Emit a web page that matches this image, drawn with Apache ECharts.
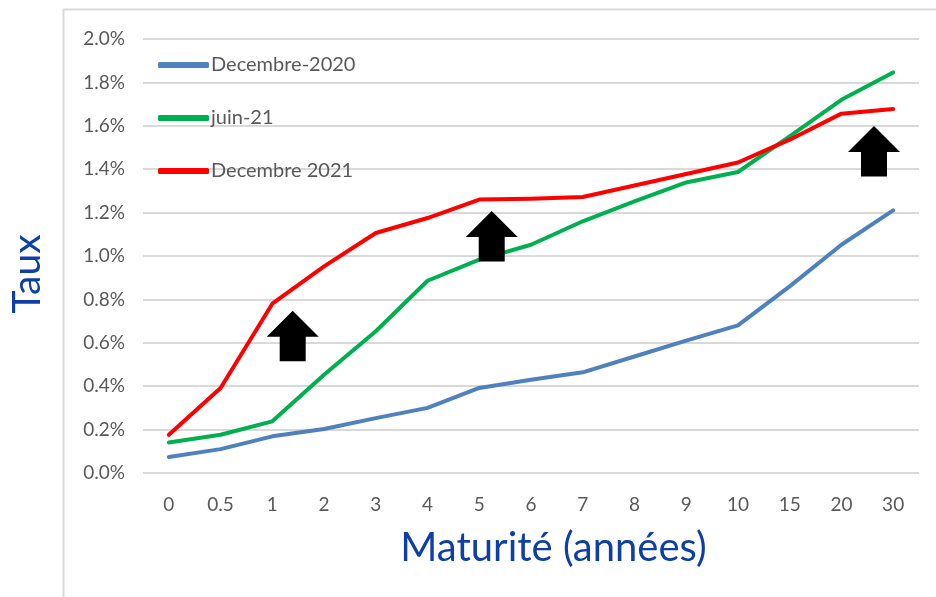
<!DOCTYPE html>
<html>
<head>
<meta charset="utf-8">
<title>Taux par maturité</title>
<script src="https://cdn.jsdelivr.net/npm/echarts@6/dist/echarts.min.js"></script>
<style>
  html, body { margin: 0; padding: 0; background: #fff; }
  #chart { width: 936px; height: 597px; }
</style>
</head>
<body>
<div id="chart"></div>
<script>
// maturités (années)
const maturities = ['0', '0.5', '1', '2', '3', '4', '5', '6', '7', '8', '9', '10', '15', '20', '30'];

// taux en %
const dec2020 = [0.074, 0.11, 0.169, 0.203, 0.253, 0.30, 0.392, 0.43, 0.464, 0.537, 0.61, 0.68, 0.86, 1.052, 1.21];
const jun2021 = [0.141, 0.176, 0.238, 0.453, 0.653, 0.886, 0.983, 1.052, 1.16, 1.252, 1.339, 1.387, 1.551, 1.72, 1.846];
const dec2021 = [0.176, 0.392, 0.78, 0.952, 1.106, 1.175, 1.26, 1.264, 1.272, 1.325, 1.378, 1.431, 1.536, 1.656, 1.677];

const seriesNames = ['Decembre-2020', 'juin-21', 'Decembre 2021'];
const seriesColors = ['#4F81BD', '#00B050', '#FF0000'];

const FONT = 'Lato, "Open Sans", sans-serif';
const TXT_GRAY = '#595959';
const TITLE_BLUE = '#0E3FA6';

// flèches noires (pointe en haut), position de la pointe
const arrowTips = [[292.7, 310.7], [491.7, 211], [874, 126]];

const arrowShape = (tx, ty) => {
    const hw = 26, hh = 26, sw = 13, sl = 24.5;
    return {
        type: 'polygon',
        z: 100,
        shape: {
            points: [
                [tx, ty], [tx + hw, ty + hh], [tx + sw, ty + hh], [tx + sw, ty + hh + sl],
                [tx - sw, ty + hh + sl], [tx - sw, ty + hh], [tx - hw, ty + hh]
            ]
        },
        style: { fill: '#000' }
    };
};

const chart = echarts.init(document.getElementById('chart'), null, { renderer: 'canvas' });

const series = [dec2020, jun2021, dec2021].map((data, i) => ({
    name: seriesNames[i],
    type: 'line',
    data: data,
    showSymbol: false,
    symbol: 'none',
    lineStyle: { color: seriesColors[i], width: 4, cap: 'round', join: 'round' },
    itemStyle: { color: seriesColors[i] },
    z: 3 + i
}));

chart.setOption({
    backgroundColor: '#fff',
    animation: false,
    textStyle: { fontFamily: FONT },
    grid: { left: 140, right: 17, top: 39, bottom: 124 },
    legend: {
        orient: 'vertical',
        left: 153,
        top: 49,
        icon: 'roundRect',
        itemWidth: 51,
        itemHeight: 6,
        itemGap: 31,
        textStyle: { color: TXT_GRAY, fontSize: 20, fontFamily: FONT, padding: [0, 0, 0, -3], lineHeight: 22 },
        data: seriesNames
    },
    xAxis: {
        type: 'category',
        data: maturities,
        boundaryGap: true,
        axisLine: { show: false },
        axisTick: { show: false },
        axisLabel: { color: TXT_GRAY, fontSize: 19, margin: 22, fontFamily: FONT },
        name: 'Maturité (années)',
        nameLocation: 'middle',
        nameGap: 55,
        nameTextStyle: { color: TITLE_BLUE, fontSize: 40, fontFamily: FONT, padding: [0, 0, 0, 45] }
    },
    yAxis: {
        type: 'value',
        min: 0,
        max: 2,
        interval: 0.2,
        axisLine: { show: false },
        axisTick: { show: false },
        axisLabel: {
            color: TXT_GRAY, fontSize: 19, margin: 18, fontFamily: FONT,
            formatter: v => v.toFixed(1) + '%'
        },
        splitLine: { lineStyle: { color: '#D9D9D9', width: 2 } },
        name: 'Taux',
        nameLocation: 'middle',
        nameGap: 96,
        nameTextStyle: { color: TITLE_BLUE, fontSize: 39, fontFamily: FONT, padding: [0, 36, 0, 0] }
    },
    graphic: [
        {
            type: 'rect',
            z: 0,
            silent: true,
            shape: { x: 63.5, y: 9.5, width: 1000, height: 1000 },
            style: { fill: 'none', stroke: '#D9D9D9', lineWidth: 2 }
        }
    ].concat(arrowTips.map(p => arrowShape(p[0], p[1]))),
    series: series
});

window.addEventListener('resize', () => chart.resize());
</script>
</body>
</html>
